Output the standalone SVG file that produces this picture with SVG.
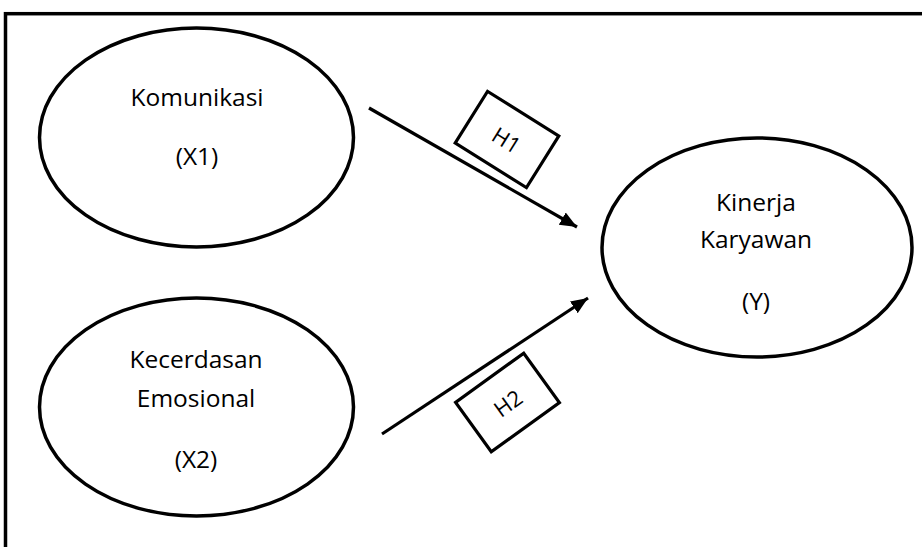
<svg xmlns="http://www.w3.org/2000/svg" width="922" height="547" viewBox="0 0 922 547">
<style>
.node{fill:#fff;stroke:#000;stroke-width:3.5}
.t{font-family:"Open Sans","Noto Sans","Liberation Sans",sans-serif;font-size:24.5px;fill:#000;text-anchor:middle}
.h{font-family:"Open Sans","Noto Sans","Liberation Sans",sans-serif;font-size:22px;fill:#000;text-anchor:middle;dominant-baseline:central}
.lbl{fill:#fff;stroke:#000;stroke-width:3.2}
.conn{stroke:#000;stroke-width:3.2;fill:none;marker-end:url(#arr)}
</style>
<defs>
<marker id="arr" markerUnits="userSpaceOnUse" markerWidth="18" markerHeight="16" viewBox="0 0 18 16" refX="17" refY="8" orient="auto">
<path d="M0,1 L17,8 L0,15 Z" fill="#000"/>
</marker>
</defs>
<rect x="5.5" y="13.7" width="930" height="560" fill="#fff" stroke="#000" stroke-width="3.5"/>
<g id="connectors">
<line class="conn" x1="369" y1="108" x2="577" y2="227"/>
<line class="conn" x1="382" y1="434" x2="588" y2="298"/>
</g>
<g id="label-H1" transform="translate(507,139.5) rotate(32)">
<rect class="lbl" x="-42" y="-30.5" width="84" height="61"/>
<text class="h" x="0" y="0">H1</text>
</g>
<g id="label-H2" transform="translate(507.5,402.5) rotate(-35.8)">
<rect class="lbl" x="-42" y="-30.5" width="84" height="61"/>
<text class="h" x="0" y="0">H2</text>
</g>
<g id="node-X1">
<ellipse class="node" cx="196.5" cy="137.5" rx="157" ry="109.5"/>
<text class="t" x="197" y="106">Komunikasi</text>
<text class="t" x="197" y="165">(X1)</text>
</g>
<g id="node-X2">
<ellipse class="node" cx="196.5" cy="407" rx="157" ry="109"/>
<text class="t" x="196" y="368">Kecerdasan</text>
<text class="t" x="196" y="407">Emosional</text>
<text class="t" x="196" y="468">(X2)</text>
</g>
<g id="node-Y">
<ellipse class="node" cx="757" cy="247.5" rx="155" ry="109.5"/>
<text class="t" x="756" y="211">Kinerja</text>
<text class="t" x="756" y="248">Karyawan</text>
<text class="t" x="756" y="310">(Y)</text>
</g>
</svg>
